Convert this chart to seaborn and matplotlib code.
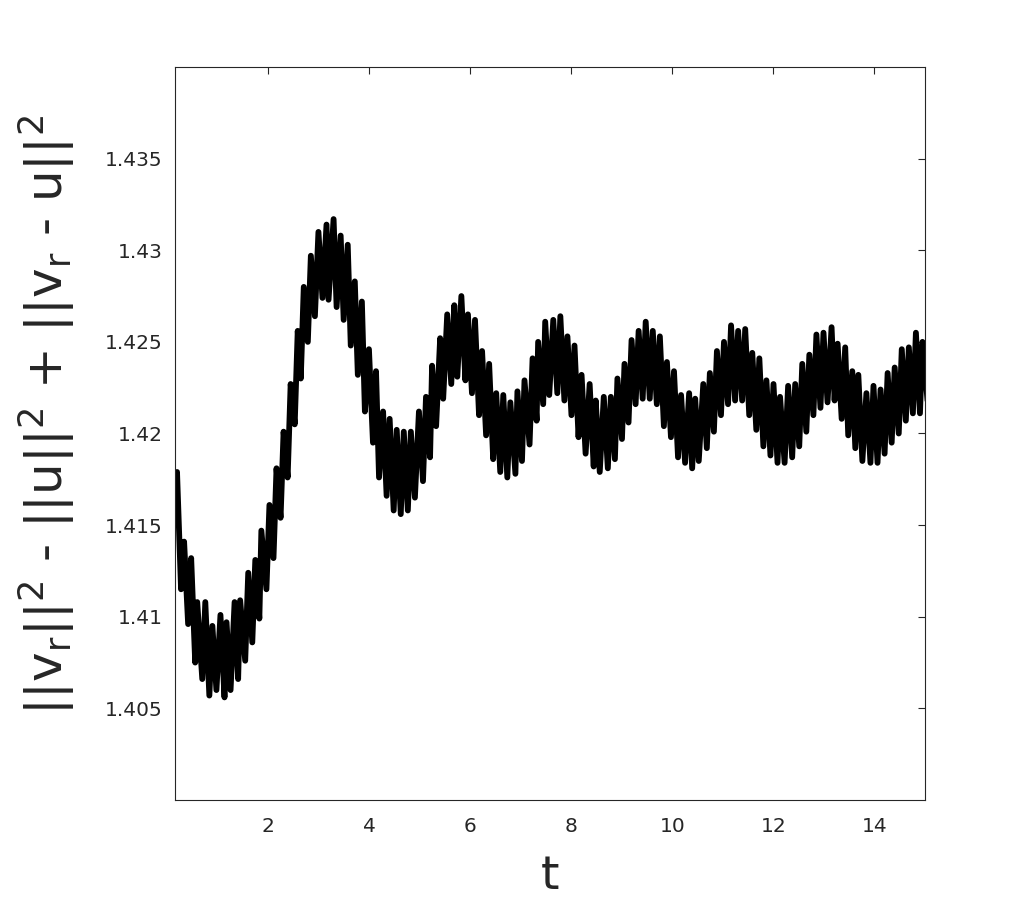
import numpy as np
import pandas as pd
import matplotlib
matplotlib.use("Agg")
import matplotlib.pyplot as plt
import seaborn as sns

# spike tops (time, value)
top_t = [0.19, 0.33, 0.47, 0.59, 0.75, 0.89, 1.05, 1.17, 1.33, 1.44, 1.60, 1.74, 1.86,
         2.02, 2.16, 2.30, 2.44, 2.58, 2.70, 2.84, 2.99, 3.15, 3.29, 3.43, 3.57, 3.71,
         3.85, 3.99, 4.13, 4.27, 4.40, 4.54, 4.68, 4.82, 4.98, 5.12, 5.24, 5.40, 5.54,
         5.68, 5.82, 5.95, 6.09, 6.23, 6.37, 6.51, 6.65, 6.79, 6.93, 7.07, 7.23, 7.34,
         7.48, 7.64, 7.78, 7.92, 8.06, 8.20, 8.36, 8.48, 8.64, 8.78, 8.91, 9.05, 9.19,
         9.33, 9.47, 9.61, 9.75, 9.89, 10.03, 10.17, 10.33, 10.45, 10.61, 10.74, 10.88,
         11.02, 11.16, 11.30, 11.44, 11.58, 11.72, 11.86, 12.00, 12.13, 12.29, 12.43,
         12.57, 12.71, 12.85, 12.99, 13.15, 13.27, 13.42, 13.56, 13.68, 13.84, 13.98,
         14.12, 14.26, 14.40, 14.54, 14.68, 14.82, 14.95]
top_v = [1.4179, 1.4141, 1.4132, 1.4108, 1.4108, 1.4095, 1.4101, 1.4097, 1.4108, 1.4109,
         1.4124, 1.4131, 1.4147, 1.4161, 1.4181, 1.4201, 1.4227, 1.4256, 1.4280, 1.4297,
         1.4310, 1.4314, 1.4317, 1.4308, 1.4303, 1.4283, 1.4272, 1.4246, 1.4234, 1.4212,
         1.4208, 1.4202, 1.4201, 1.4201, 1.4212, 1.4220, 1.4237, 1.4252, 1.4265, 1.4270,
         1.4275, 1.4265, 1.4262, 1.4245, 1.4238, 1.4222, 1.4221, 1.4217, 1.4223, 1.4229,
         1.4241, 1.4250, 1.4261, 1.4262, 1.4264, 1.4253, 1.4248, 1.4232, 1.4227, 1.4218,
         1.4220, 1.4220, 1.4230, 1.4238, 1.4251, 1.4256, 1.4261, 1.4256, 1.4253, 1.4239,
         1.4234, 1.4221, 1.4222, 1.4219, 1.4227, 1.4233, 1.4245, 1.4250, 1.4259, 1.4256,
         1.4257, 1.4244, 1.4241, 1.4229, 1.4227, 1.4220, 1.4226, 1.4227, 1.4238, 1.4243,
         1.4254, 1.4255, 1.4258, 1.4249, 1.4247, 1.4234, 1.4232, 1.4222, 1.4226, 1.4224,
         1.4233, 1.4236, 1.4246, 1.4247, 1.4255, 1.4250]

# spike bottoms (time, value)
bot_t = [0.15, 0.27, 0.41, 0.55, 0.69, 0.83, 0.97, 1.13, 1.25, 1.40, 1.54, 1.68, 1.82,
         1.96, 2.10, 2.24, 2.38, 2.52, 2.64, 2.78, 2.92, 3.07, 3.19, 3.35, 3.49, 3.63,
         3.77, 3.91, 4.07, 4.19, 4.34, 4.48, 4.62, 4.76, 4.90, 5.06, 5.20, 5.32, 5.46,
         5.62, 5.74, 5.90, 6.03, 6.17, 6.31, 6.45, 6.59, 6.73, 6.89, 7.02, 7.17, 7.31,
         7.44, 7.56, 7.72, 7.86, 8.00, 8.14, 8.28, 8.44, 8.56, 8.72, 8.86, 9.00, 9.13,
         9.27, 9.41, 9.55, 9.69, 9.83, 9.97, 10.11, 10.25, 10.39, 10.52, 10.68, 10.82,
         10.96, 11.10, 11.24, 11.38, 11.52, 11.66, 11.80, 11.94, 12.08, 12.22, 12.37,
         12.51, 12.65, 12.79, 12.93, 13.07, 13.21, 13.35, 13.48, 13.62, 13.76, 13.92,
         14.06, 14.20, 14.34, 14.48, 14.62, 14.76, 14.90, 15.05]
bot_v = [1.4154, 1.4115, 1.4096, 1.4075, 1.4066, 1.4057, 1.4060, 1.4056, 1.4060, 1.4066,
         1.4076, 1.4086, 1.4099, 1.4115, 1.4132, 1.4154, 1.4176, 1.4205, 1.4230, 1.4250,
         1.4264, 1.4274, 1.4273, 1.4269, 1.4262, 1.4248, 1.4232, 1.4212, 1.4195, 1.4176,
         1.4166, 1.4158, 1.4156, 1.4158, 1.4165, 1.4174, 1.4187, 1.4204, 1.4219, 1.4227,
         1.4231, 1.4229, 1.4222, 1.4210, 1.4199, 1.4186, 1.4179, 1.4176, 1.4178, 1.4185,
         1.4194, 1.4207, 1.4216, 1.4221, 1.4222, 1.4218, 1.4210, 1.4198, 1.4189, 1.4182,
         1.4179, 1.4181, 1.4186, 1.4197, 1.4206, 1.4216, 1.4219, 1.4219, 1.4216, 1.4204,
         1.4198, 1.4187, 1.4184, 1.4181, 1.4185, 1.4192, 1.4201, 1.4210, 1.4216, 1.4218,
         1.4218, 1.4210, 1.4202, 1.4193, 1.4188, 1.4184, 1.4184, 1.4187, 1.4193, 1.4201,
         1.4210, 1.4214, 1.4217, 1.4218, 1.4208, 1.4199, 1.4192, 1.4185, 1.4184, 1.4184,
         1.4189, 1.4195, 1.4200, 1.4207, 1.4211, 1.4211, 1.4218]

x_ticks = [2, 4, 6, 8, 10, 12, 14]
y_ticks = [1.405, 1.41, 1.415, 1.42, 1.425, 1.43, 1.435]
y_tick_labels = ["1.405", "1.41", "1.415", "1.42", "1.425", "1.43", "1.435"]

df = pd.DataFrame({"t": top_t + bot_t, "E": top_v + bot_v}).sort_values("t")

sns.set_style("white")
plt.rcParams["font.family"] = ["DejaVu Sans"]
plt.rcParams["mathtext.default"] = "regular"

fig = plt.figure(figsize=(10.22, 9.0), dpi=100)
ax = fig.add_axes([175 / 1022, 100 / 900, 750 / 1022, 733 / 900])

sns.lineplot(data=df, x="t", y="E", estimator=None, sort=True,
             color="black", linewidth=4.2, ax=ax)

ax.set_xlim(0.15, 15)
ax.set_ylim(1.40, 1.44)
ax.set_xticks(x_ticks)
ax.set_xticklabels([str(v) for v in x_ticks])
ax.set_yticks(y_ticks)
ax.set_yticklabels(y_tick_labels)

for s in ax.spines.values():
    s.set_visible(True)
    s.set_color("#262626")
    s.set_linewidth(0.8)

ax.tick_params(direction="in", length=5, width=0.8, color="#262626",
               top=True, right=True, labelsize=14.5, labelcolor="#262626")
ax.tick_params(axis="x", pad=12)
ax.tick_params(axis="y", pad=9)

ax.set_xlabel("t", fontsize=34, color="#262626", labelpad=13)
ax.set_ylabel(r"$||v_r||^2$ - $||u||^2$ + $||v_r$ - $u||^2$",
              fontsize=36, color="#262626")
ax.yaxis.set_label_coords(-0.131, 0.525)

fig.savefig("out.png", dpi=100, facecolor="white")
